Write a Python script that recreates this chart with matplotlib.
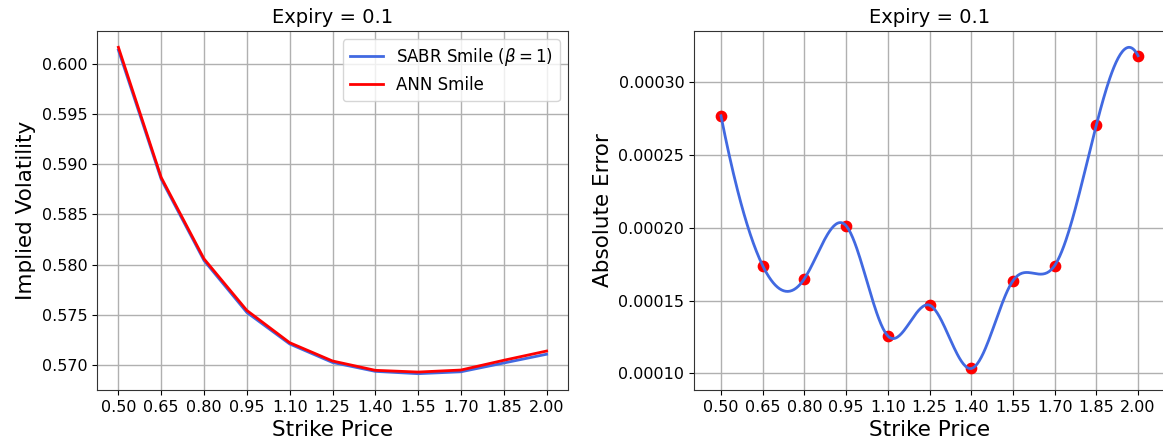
import numpy as np
import matplotlib
matplotlib.use("Agg")
import matplotlib.pyplot as plt

# Strike grid and smile values at expiry 0.1
strikes = [0.50, 0.65, 0.80, 0.95, 1.10, 1.25, 1.40, 1.55, 1.70, 1.85, 2.00]
ann_smile = [0.60162, 0.58866, 0.58056, 0.57543, 0.57222, 0.57040,
             0.56947, 0.56930, 0.56950, 0.57047, 0.57139]
abs_error = [0.000277, 0.000174, 0.000165, 0.0002014, 0.0001257, 0.0001468,
             0.0001033, 0.0001636, 0.000174, 0.0002706, 0.0003183]
sabr_smile = [a - e for a, e in zip(ann_smile, abs_error)]
tick_labels = [f"{k:.2f}" for k in strikes]
expiry = 0.1


def not_a_knot_spline(x, y, xs):
    """Cubic interpolating spline with not-a-knot end conditions."""
    x = np.asarray(x, float)
    y = np.asarray(y, float)
    n = len(x)
    h = np.diff(x)
    A = np.zeros((n, n))
    b = np.zeros(n)
    for i in range(1, n - 1):
        A[i, i - 1] = h[i - 1]
        A[i, i] = 2 * (h[i - 1] + h[i])
        A[i, i + 1] = h[i]
        b[i] = 6 * ((y[i + 1] - y[i]) / h[i] - (y[i] - y[i - 1]) / h[i - 1])
    # continuity of the third derivative at the second and second-last knots
    A[0, 0] = h[1]
    A[0, 1] = -(h[0] + h[1])
    A[0, 2] = h[0]
    A[-1, -3] = h[-1]
    A[-1, -2] = -(h[-2] + h[-1])
    A[-1, -1] = h[-2]
    M = np.linalg.solve(A, b)
    idx = np.clip(np.searchsorted(x, xs) - 1, 0, n - 2)
    x0, x1 = x[idx], x[idx + 1]
    hh = x1 - x0
    t0, t1 = x1 - xs, xs - x0
    return (M[idx] * t0 ** 3 / (6 * hh) + M[idx + 1] * t1 ** 3 / (6 * hh)
            + (y[idx] / hh - M[idx] * hh / 6) * t0
            + (y[idx + 1] / hh - M[idx + 1] * hh / 6) * t1)


W, H = 1163, 448
fig = plt.figure(figsize=(W / 100, H / 100), dpi=100)
ax1 = fig.add_axes([97 / W, 58 / H, 471 / W, 359 / H])
ax2 = fig.add_axes([694 / W, 58 / H, 471 / W, 359 / H])

tick_fs = 11.5
label_fs = 15.5
title_fs = 14

# Left: implied volatility smiles
ax1.plot(strikes, sabr_smile, color="royalblue", lw=2, label=r"SABR Smile ($\beta = 1$)")
ax1.plot(strikes, ann_smile, color="red", lw=2, label="ANN Smile")
ax1.set_xticks(strikes)
ax1.set_xticklabels(tick_labels)
ax1.set_xlabel("Strike Price", fontsize=label_fs)
ax1.set_ylabel("Implied Volatility", fontsize=label_fs)
ax1.set_title(f"Expiry = {expiry}", fontsize=title_fs)
ax1.grid(True, color="#b0b0b0", lw=1)
ax1.legend(loc="upper right", fontsize=12)
ax1.tick_params(labelsize=tick_fs)

# Right: absolute error with smooth spline through the points
xs = np.linspace(strikes[0], strikes[-1], 400)
ax2.scatter(strikes, abs_error, color="red", s=55, zorder=2)
ax2.plot(xs, not_a_knot_spline(strikes, abs_error, xs), color="royalblue", lw=2, zorder=3)
ax2.set_xticks(strikes)
ax2.set_xticklabels(tick_labels)
ax2.set_xlim(0.403, 2.097)
ax2.set_ylim(0.0000885, 0.0003353)
ax2.set_xlabel("Strike Price", fontsize=label_fs)
ax2.set_ylabel("Absolute Error", fontsize=label_fs)
ax2.set_title(f"Expiry = {expiry}", fontsize=title_fs)
ax2.grid(True, color="#b0b0b0", lw=1)
ax2.tick_params(labelsize=tick_fs)

for ax in (ax1, ax2):
    for sp in ax.spines.values():
        sp.set_color("#333333")

fig.savefig("out.png", dpi=100)
